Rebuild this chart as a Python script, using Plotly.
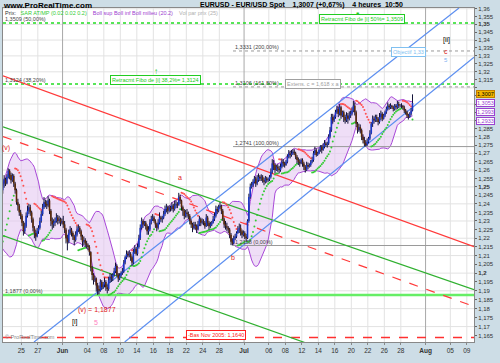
import numpy as np
import pandas as pd
import plotly.graph_objects as go

# ---------------- calendar (trading days, weekends removed) ----------------
trading_days = [d.strftime("%Y-%m-%d") for d in pd.bdate_range("2010-05-17", "2010-08-09")]
origin_day = "2010-05-25"          # x = 0 on the axis

# ---------------- EUR/USD 4-hour bars (6 per day, from 2010-05-17 00h) ----------------
first_open = 1.2350
close = [
 1.2330,1.2280,1.2250,1.2320,1.2370,1.2390,  # May 17
 1.2380,1.2400,1.2350,1.2300,1.2260,1.2230,  # May 18
 1.2200,1.2160,1.2200,1.2260,1.2300,1.2270,  # May 19
 1.2300,1.2380,1.2430,1.2480,1.2520,1.2545,  # May 20
 1.2520,1.2560,1.2595,1.2570,1.2540,1.2565,  # May 21
 1.2520,1.2480,1.2410,1.2390,1.2350,1.2330,  # May 24
 1.2290,1.2240,1.2270,1.2330,1.2360,1.2380,  # May 25
 1.2350,1.2310,1.2260,1.2230,1.2210,1.2240,  # May 26
 1.2260,1.2300,1.2340,1.2380,1.2410,1.2400,  # May 27
 1.2390,1.2420,1.2360,1.2300,1.2280,1.2290,  # May 28
 1.2300,1.2320,1.2300,1.2310,1.2290,1.2300,  # May 31
 1.2280,1.2250,1.2200,1.2180,1.2230,1.2250,  # Jun 1
 1.2230,1.2210,1.2190,1.2220,1.2250,1.2260,  # Jun 2
 1.2240,1.2210,1.2180,1.2190,1.2170,1.2160,  # Jun 3
 1.2150,1.2120,1.2030,1.1990,1.1960,1.1970,  # Jun 4
 1.1930,1.1910,1.1900,1.1950,1.1920,1.1935,  # Jun 7
 1.1950,1.1920,1.1910,1.1960,1.1980,1.1970,  # Jun 8
 1.1990,1.2010,1.2040,1.1990,1.1970,1.1985,  # Jun 9
 1.2000,1.2010,1.2060,1.2090,1.2110,1.2100,  # Jun 10
 1.2110,1.2090,1.2060,1.2120,1.2140,1.2110,  # Jun 11
 1.2150,1.2200,1.2260,1.2300,1.2280,1.2290,  # Jun 14
 1.2270,1.2240,1.2250,1.2290,1.2310,1.2320,  # Jun 15
 1.2300,1.2280,1.2260,1.2290,1.2320,1.2310,  # Jun 16
 1.2320,1.2340,1.2370,1.2380,1.2360,1.2380,  # Jun 17
 1.2370,1.2390,1.2370,1.2390,1.2400,1.2390,  # Jun 18
 1.2440,1.2420,1.2380,1.2360,1.2330,1.2350,  # Jun 21
 1.2340,1.2330,1.2300,1.2280,1.2260,1.2280,  # Jun 22
 1.2270,1.2250,1.2280,1.2310,1.2290,1.2300,  # Jun 23
 1.2290,1.2270,1.2320,1.2290,1.2270,1.2280,  # Jun 24
 1.2290,1.2310,1.2330,1.2370,1.2360,1.2380,  # Jun 25
 1.2390,1.2360,1.2310,1.2280,1.2270,1.2260,  # Jun 28
 1.2250,1.2220,1.2180,1.2170,1.2200,1.2210,  # Jun 29
 1.2230,1.2250,1.2260,1.2240,1.2220,1.2230,  # Jun 30
 1.2210,1.2200,1.2300,1.2440,1.2500,1.2510,  # Jul 1
 1.2530,1.2550,1.2520,1.2540,1.2560,1.2550,  # Jul 2
 1.2560,1.2540,1.2530,1.2550,1.2540,1.2545,  # Jul 5
 1.2560,1.2590,1.2640,1.2630,1.2600,1.2620,  # Jul 6
 1.2610,1.2600,1.2620,1.2650,1.2640,1.2630,  # Jul 7
 1.2650,1.2680,1.2700,1.2690,1.2700,1.2710,  # Jul 8
 1.2700,1.2680,1.2660,1.2650,1.2640,1.2660,  # Jul 9
 1.2640,1.2620,1.2600,1.2630,1.2620,1.2630,  # Jul 12
 1.2650,1.2660,1.2700,1.2720,1.2690,1.2700,  # Jul 13
 1.2720,1.2740,1.2720,1.2740,1.2760,1.2750,  # Jul 14
 1.2760,1.2800,1.2840,1.2920,1.2900,1.2920,  # Jul 15
 1.2950,1.2970,1.2940,1.2980,1.2930,1.2950,  # Jul 16
 1.2920,1.2900,1.2930,1.2910,1.2930,1.2940,  # Jul 19
 1.2960,1.2990,1.2950,1.2880,1.2840,1.2860,  # Jul 20
 1.2840,1.2800,1.2780,1.2760,1.2750,1.2770,  # Jul 21
 1.2790,1.2820,1.2880,1.2910,1.2900,1.2920,  # Jul 22
 1.2910,1.2890,1.2920,1.2940,1.2910,1.2930,  # Jul 23
 1.2950,1.2970,1.2990,1.2980,1.2990,1.2980,  # Jul 26
 1.2970,1.2990,1.2980,1.3000,1.2990,1.2990,  # Jul 27
 1.2990,1.2980,1.2960,1.2950,1.2930,1.2920,  # Jul 28
 1.2940,1.2960,1.3007,                       # Jul 29 (to 10:50)
]
high = [
 1.2370,1.2330,1.2300,1.2340,1.2390,1.2410,
 1.2410,1.2420,1.2410,1.2360,1.2310,1.2270,
 1.2240,1.2210,1.2230,1.2290,1.2330,1.2310,
 1.2320,1.2400,1.2460,1.2510,1.2550,1.2570,
 1.2555,1.2575,1.2610,1.2605,1.2585,1.2580,
 1.2575,1.2530,1.2490,1.2430,1.2400,1.2365,
 1.2340,1.2300,1.2290,1.2350,1.2390,1.2400,
 1.2395,1.2360,1.2320,1.2270,1.2250,1.2260,
 1.2275,1.2320,1.2360,1.2400,1.2440,1.2425,
 1.2420,1.2445,1.2430,1.2370,1.2320,1.2310,
 1.2320,1.2345,1.2335,1.2330,1.2320,1.2315,
 1.2330,1.2300,1.2260,1.2220,1.2250,1.2270,
 1.2260,1.2240,1.2220,1.2240,1.2270,1.2280,
 1.2270,1.2250,1.2220,1.2210,1.2200,1.2185,
 1.2170,1.2160,1.2125,1.2040,1.2000,1.1985,
 1.1975,1.1945,1.1930,1.1965,1.1960,1.1950,
 1.1975,1.1960,1.1935,1.1980,1.2000,1.1995,
 1.2000,1.2030,1.2060,1.2050,1.2000,1.2000,
 1.2010,1.2030,1.2075,1.2100,1.2130,1.2125,
 1.2130,1.2120,1.2100,1.2140,1.2160,1.2150,
 1.2170,1.2220,1.2280,1.2320,1.2310,1.2300,
 1.2300,1.2280,1.2270,1.2310,1.2330,1.2340,
 1.2330,1.2310,1.2290,1.2310,1.2350,1.2330,
 1.2330,1.2360,1.2390,1.2400,1.2390,1.2390,
 1.2390,1.2410,1.2400,1.2420,1.2420,1.2410,
 1.2465,1.2455,1.2425,1.2390,1.2370,1.2365,
 1.2370,1.2355,1.2340,1.2310,1.2290,1.2295,
 1.2295,1.2280,1.2300,1.2330,1.2320,1.2315,
 1.2310,1.2300,1.2340,1.2330,1.2300,1.2295,
 1.2300,1.2330,1.2350,1.2390,1.2385,1.2395,
 1.2410,1.2395,1.2370,1.2320,1.2300,1.2290,
 1.2270,1.2260,1.2230,1.2200,1.2215,1.2225,
 1.2240,1.2270,1.2285,1.2280,1.2250,1.2245,
 1.2240,1.2225,1.2310,1.2460,1.2520,1.2530,
 1.2545,1.2565,1.2560,1.2570,1.2580,1.2570,
 1.2575,1.2570,1.2555,1.2565,1.2560,1.2555,
 1.2570,1.2610,1.2665,1.2660,1.2640,1.2630,
 1.2635,1.2625,1.2640,1.2670,1.2665,1.2650,
 1.2660,1.2695,1.2720,1.2715,1.2720,1.2725,
 1.2725,1.2710,1.2690,1.2675,1.2665,1.2670,
 1.2670,1.2650,1.2630,1.2650,1.2645,1.2640,
 1.2660,1.2680,1.2715,1.2740,1.2730,1.2710,
 1.2730,1.2750,1.2750,1.2760,1.2780,1.2770,
 1.2770,1.2815,1.2860,1.2940,1.2940,1.2930,
 1.2965,1.2990,1.2985,1.3000,1.2990,1.2960,
 1.2960,1.2935,1.2950,1.2945,1.2955,1.2960,
 1.2980,1.3020,1.3010,1.2960,1.2890,1.2880,
 1.2875,1.2850,1.2815,1.2800,1.2780,1.2790,
 1.2800,1.2840,1.2890,1.2930,1.2925,1.2935,
 1.2935,1.2920,1.2945,1.2960,1.2950,1.2940,
 1.2960,1.2985,1.3010,1.3000,1.3005,1.2995,
 1.2990,1.3000,1.3000,1.3020,1.3015,1.3000,
 1.3005,1.2995,1.2990,1.2970,1.2960,1.2940,
 1.2950,1.2975,1.3060,
]
low = [
 1.2300,1.2240,1.2235,1.2250,1.2310,1.2350,
 1.2360,1.2370,1.2330,1.2280,1.2240,1.2200,
 1.2170,1.2143,1.2150,1.2190,1.2240,1.2250,
 1.2260,1.2290,1.2370,1.2420,1.2460,1.2495,
 1.2505,1.2515,1.2550,1.2545,1.2520,1.2530,
 1.2500,1.2460,1.2395,1.2360,1.2330,1.2310,
 1.2270,1.2215,1.2225,1.2260,1.2320,1.2340,
 1.2330,1.2290,1.2240,1.2200,1.2185,1.2205,
 1.2225,1.2250,1.2290,1.2330,1.2370,1.2380,
 1.2370,1.2380,1.2340,1.2270,1.2250,1.2260,
 1.2270,1.2290,1.2280,1.2285,1.2270,1.2280,
 1.2260,1.2230,1.2170,1.2130,1.2170,1.2220,
 1.2210,1.2190,1.2160,1.2180,1.2210,1.2235,
 1.2225,1.2190,1.2150,1.2160,1.2150,1.2140,
 1.2130,1.2100,1.2010,1.1960,1.1935,1.1950,
 1.1895,1.1877,1.1880,1.1895,1.1905,1.1910,
 1.1920,1.1900,1.1885,1.1900,1.1945,1.1950,
 1.1955,1.1980,1.2000,1.1980,1.1950,1.1960,
 1.1975,1.1990,1.2000,1.2050,1.2080,1.2090,
 1.2090,1.2070,1.2040,1.2050,1.2110,1.2100,
 1.2100,1.2140,1.2190,1.2250,1.2260,1.2270,
 1.2250,1.2220,1.2220,1.2240,1.2280,1.2300,
 1.2290,1.2260,1.2240,1.2250,1.2280,1.2295,
 1.2290,1.2310,1.2330,1.2350,1.2340,1.2350,
 1.2355,1.2360,1.2350,1.2360,1.2375,1.2375,
 1.2400,1.2400,1.2360,1.2330,1.2310,1.2320,
 1.2320,1.2310,1.2280,1.2260,1.2235,1.2250,
 1.2250,1.2230,1.2245,1.2270,1.2270,1.2280,
 1.2275,1.2255,1.2265,1.2270,1.2250,1.2260,
 1.2270,1.2285,1.2300,1.2320,1.2340,1.2350,
 1.2370,1.2340,1.2300,1.2260,1.2250,1.2240,
 1.2230,1.2200,1.2160,1.2158,1.2165,1.2190,
 1.2200,1.2225,1.2230,1.2215,1.2200,1.2210,
 1.2195,1.2180,1.2195,1.2290,1.2430,1.2490,
 1.2500,1.2520,1.2500,1.2510,1.2530,1.2535,
 1.2535,1.2525,1.2510,1.2520,1.2525,1.2530,
 1.2535,1.2550,1.2580,1.2600,1.2580,1.2595,
 1.2590,1.2580,1.2590,1.2610,1.2620,1.2615,
 1.2625,1.2640,1.2670,1.2670,1.2680,1.2690,
 1.2690,1.2665,1.2640,1.2630,1.2620,1.2635,
 1.2620,1.2600,1.2585,1.2595,1.2605,1.2615,
 1.2620,1.2640,1.2650,1.2690,1.2680,1.2685,
 1.2695,1.2710,1.2700,1.2715,1.2730,1.2740,
 1.2735,1.2750,1.2790,1.2830,1.2880,1.2890,
 1.2910,1.2940,1.2920,1.2930,1.2910,1.2920,
 1.2890,1.2880,1.2890,1.2880,1.2900,1.2915,
 1.2930,1.2950,1.2930,1.2860,1.2820,1.2830,
 1.2820,1.2780,1.2760,1.2741,1.2741,1.2745,
 1.2760,1.2780,1.2815,1.2860,1.2880,1.2890,
 1.2890,1.2870,1.2880,1.2900,1.2895,1.2905,
 1.2920,1.2940,1.2960,1.2965,1.2970,1.2970,
 1.2955,1.2960,1.2965,1.2970,1.2975,1.2980,
 1.2975,1.2965,1.2945,1.2935,1.2915,1.2905,
 1.2915,1.2930,1.2955,
]

# Fibonacci retracement of [i] (full width) and extension levels (from b onwards)
retr_levels = [1.3509, 1.3124, 1.1877]
retr_labels = ["1,3509 (50,00%)", "1,3124 (38,20%)", "1,1877 (0,00%)"]
ext_levels = [1.3331, 1.3106, 1.2741, 1.2158]
ext_labels = ["1,3331 (200,00%)", "1,3106 (161,80%)", "1,2741 (100,00%)", "1,2158 (0,00%)"]
ext_start_day = 25.66
nov2005_low = 1.1640

# trend lines: (trading-day index, price) endpoints
red_channel = [(-2.22, 1.3175), (54.87, 1.2151)]
red_channel_dash = [(-2.22, 1.2802), (54.87, 1.1812)]
green_channel_top = [(-2.22, 1.2861), (54.87, 1.1907)]
green_channel_bot = [(-2.22, 1.2215), (54.87, 1.1287)]
blue_channel_top = [(1.54, 1.1615), (53.05, 1.3605)]
blue_channel_bot = [(12.53, 1.1615), (54.87, 1.3292)]

# right-axis value tags (text, background, text colour)
value_tags = [("1,3007", "#f5b800", "#000000"), ("1,3053", "#ffffff", "#9b40d0"),
              ("1,2993", "#ffffff", "#9b40d0"), ("1,2933", "#ffffff", "#9b40d0")]

# x-axis tick labels
tick_dates = ["2010-05-25","2010-05-27","2010-06-01","2010-06-04","2010-06-08","2010-06-10",
              "2010-06-14","2010-06-16","2010-06-18","2010-06-22","2010-06-24","2010-06-28",
              "2010-07-01","2010-07-06","2010-07-08","2010-07-12","2010-07-14","2010-07-16",
              "2010-07-20","2010-07-22","2010-07-26","2010-07-28","2010-08-02","2010-08-05","2010-08-09"]
tick_labels = ["25","27","<b>Jun</b>","04","08","10","14","16","18","22","24","28",
               "<b>Jul</b>","06","08","12","14","16","20","22","26","28","<b>Aug</b>","05","09"]

# ---------------- derived positions ----------------
day_index = {d: i - trading_days.index(origin_day) for i, d in enumerate(trading_days)}
first_day = day_index["2010-05-17"]
n = len(close)
bar_x = np.array([first_day + (k // 6) + ((k % 6) + 0.5) / 6 for k in range(n)])
c = np.array(close); h = np.array(high); l = np.array(low)
o = np.concatenate([[first_open], c[:-1]])

# Bollinger (20, 2)
s = pd.Series(c)
mid = s.rolling(20).mean()
sd = s.rolling(20).std(ddof=0)
bb_up = (mid + 2 * sd).values
bb_lo = (mid - 2 * sd).values

# Parabolic SAR (0.02, 0.02, 0.2)
sar = np.zeros(n); bull = np.zeros(n, dtype=bool)
up = False; af = 0.02; ep = l[0]; sar[0] = h[0]
for i in range(1, n):
    p = sar[i-1] + af * (ep - sar[i-1])
    if up:
        p = min(p, l[i-1], l[i-2] if i > 1 else l[i-1])
        if l[i] < p:
            up = False; p = ep; ep = l[i]; af = 0.02
        elif h[i] > ep:
            ep = h[i]; af = min(af + 0.02, 0.2)
    else:
        p = max(p, h[i-1], h[i-2] if i > 1 else h[i-1])
        if h[i] > p:
            up = True; p = ep; ep = h[i]; af = 0.02
        elif l[i] < ep:
            ep = l[i]; af = min(af + 0.02, 0.2)
    sar[i] = p; bull[i] = up

XR = [-2.22, 54.87]
YR = [1.1615, 1.3605]

fig = go.Figure()

def segs(xs, y0s, y1s):
    X, Y = [], []
    for x, a, b in zip(xs, y0s, y1s):
        X += [x, x, None]; Y += [a, b, None]
    return X, Y

# horizontal grid every 0.01 and vertical grid on tick dates
gx, gy = [], []
for v in np.arange(1.17, 1.361, 0.01):
    gx += [XR[0], XR[1], None]; gy += [v, v, None]
fig.add_trace(go.Scatter(x=gx, y=gy, mode="lines", line=dict(color="#e2e2e2", width=1), hoverinfo="skip"))
minor_d = [day_index[d] for d, t in zip(tick_dates, tick_labels) if not t.startswith("<b>")]
month_d = [day_index[d] for d, t in zip(tick_dates, tick_labels) if t.startswith("<b>")]
vx, vy = segs(minor_d, [YR[0]] * len(minor_d), [YR[1]] * len(minor_d))
fig.add_trace(go.Scatter(x=vx, y=vy, mode="lines", line=dict(color="#e2e2e2", width=1), hoverinfo="skip"))
mx, my = segs(month_d, [YR[0]] * len(month_d), [YR[1]] * len(month_d))
fig.add_trace(go.Scatter(x=mx, y=my, mode="lines", line=dict(color="#a8a8a8", width=1), hoverinfo="skip"))

# Bollinger band fill
fig.add_trace(go.Scatter(x=bar_x, y=bb_lo, mode="lines", line=dict(color="#a848d8", width=1), hoverinfo="skip"))
fig.add_trace(go.Scatter(x=bar_x, y=bb_up, mode="lines", line=dict(color="#a848d8", width=1),
                         fill="tonexty", fillcolor="rgba(228,200,242,0.6)", hoverinfo="skip"))

# retracement / extension levels
for lv in retr_levels[:2]:
    fig.add_trace(go.Scatter(x=XR, y=[lv, lv], mode="lines", line=dict(color="#22dd22", width=1.5, dash="dot")))
fig.add_trace(go.Scatter(x=XR, y=[retr_levels[2]] * 2, mode="lines", line=dict(color="#66ee66", width=2.5)))
for lv, dash in zip(ext_levels, ["dot", "dot", "solid", "solid"]):
    fig.add_trace(go.Scatter(x=[ext_start_day, XR[1]], y=[lv, lv], mode="lines",
                             line=dict(color="#9a9a9a", width=1, dash=dash)))
fig.add_trace(go.Scatter(x=XR, y=[nov2005_low] * 2, mode="lines", line=dict(color="#ff3030", width=1.5, dash="dash")))

# trend lines
for seg, col, dash in [(red_channel, "#ff3a3a", "solid"), (red_channel_dash, "#ff3a3a", "dash"),
                       (green_channel_top, "#30b030", "solid"), (green_channel_bot, "#30b030", "solid"),
                       (blue_channel_top, "#5b8ef0", "solid"), (blue_channel_bot, "#5b8ef0", "solid")]:
    fig.add_trace(go.Scatter(x=[seg[0][0], seg[1][0]], y=[seg[0][1], seg[1][1]], mode="lines",
                             line=dict(color=col, width=1.2, dash=dash)))

# SAR dots
fig.add_trace(go.Scatter(x=bar_x[~bull], y=sar[~bull], mode="markers",
                         marker=dict(color="#ff5050", size=2)))
fig.add_trace(go.Scatter(x=bar_x[bull], y=sar[bull], mode="markers",
                         marker=dict(color="#33cc33", size=2)))

# candles drawn as wick + body segments
wx, wy = segs(bar_x, l, h)
fig.add_trace(go.Scatter(x=wx, y=wy, mode="lines", line=dict(color="#14143a", width=1), hoverinfo="skip"))
upm = c >= o
ux, uy = segs(bar_x[upm], o[upm], c[upm])
fig.add_trace(go.Scatter(x=ux, y=uy, mode="lines", line=dict(color="#1a36c8", width=1.6), hoverinfo="skip"))
dx, dy = segs(bar_x[~upm], o[~upm], c[~upm])
fig.add_trace(go.Scatter(x=dx, y=dy, mode="lines", line=dict(color="#5a2a08", width=1.6), hoverinfo="skip"))

F = "Liberation Sans, Arial, sans-serif"
ann = []
def lg(p):
    return float(np.log10(p))

# header
ann.append(dict(xref="paper", yref="paper", x=-0.004, y=1.026, xanchor="left", yanchor="top",
                text="<b>www.ProRealTime.com</b>", font=dict(size=8, color="#000", family=F), showarrow=False))
ann.append(dict(xref="paper", yref="paper", x=0.414, y=1.026, xanchor="left", yanchor="top",
                text="<b>EURUSD - EUR/USD Spot    1,3007 (+0,67%)    4 heures  10:50</b>",
                font=dict(size=7, color="#000", family=F), showarrow=False))
# indicator legend row
ann.append(dict(xref="paper", yref="paper", x=0.0, y=1.0, xanchor="left", yanchor="top",
                text="Prix:   <span style='color:#33cc33'>SAR AT/MP (0.02 0.02 0.2)</span>    "
                     "<span style='color:#9b40d0'>Boll sup Boll inf Boll milieu (20.2)</span>    "
                     "<span style='color:#b0b0b0'>Vol par prix (25)</span>",
                font=dict(size=5.5, color="#333", family=F), showarrow=False))
# level labels
for lv, t in zip(retr_levels, retr_labels):
    ann.append(dict(xref="paper", yref="y", x=0.0, y=lg(lv), xanchor="left", yanchor="bottom",
                    text=t, font=dict(size=5.5, color="#444", family=F), showarrow=False, yshift=-1))
for lv, t in zip(ext_levels, ext_labels):
    ann.append(dict(xref="x", yref="y", x=ext_start_day, y=lg(lv), xanchor="left", yanchor="bottom",
                    text=t, font=dict(size=5.5, color="#444", family=F), showarrow=False, yshift=-1))
# boxes
def box(x, y, t, col, bg="white", size=5.5):
    ann.append(dict(xref="x", yref="y", x=x, y=lg(y), text=t, showarrow=False,
                    font=dict(size=size, color=col, family=F), bgcolor=bg, bordercolor=col,
                    borderwidth=1, borderpad=1))
box(41.3, 1.3535, "Retracmt Fibo de [i] 50%= 1,3509", "#22cc22")
box(16.3, 1.3150, "Retracmt Fibo de [i] 38,2%= 1,3124", "#22cc22")
box(46.9, 1.3325, "Objectif 1,33", "#80c0f0")
box(35.3, 1.3125, "Extens. c = 1,618 x a", "#a0a0a0")
box(23.6, 1.1652, "-Bas Nov 2005: 1,1640", "#ff2020")
ann.append(dict(xref="x", yref="y", x=16.3, y=lg(1.3205), text="<b>\u2191</b>", showarrow=False,
                font=dict(size=8, color="#22cc22", family=F)))
ann.append(dict(xref="x", yref="y", x=40.8, y=lg(1.3573), text="\u25a0", showarrow=False,
                font=dict(size=5, color="#22cc22", family=F)))
# wave labels
def wl(x, p, t, col, size=7):
    ann.append(dict(xref="x", yref="y", x=x, y=lg(p), text=t, showarrow=False,
                    font=dict(size=size, color=col, family=F)))
wl(-1.86, 1.2734, "(v)", "#e02020")
wl(19.26, 1.2554, "a", "#e02020")
wl(25.66, 1.2088, "b", "#e02020")
wl(9.19, 1.1795, "(v) = 1,1877", "#e02020")
wl(6.5, 1.1723, "[i]", "#000000")
wl(9.05, 1.1723, "5", "#ff80c0")
wl(51.5, 1.3401, "[ii]", "#000000")
wl(51.5, 1.3325, "c", "#e02020")
wl(51.5, 1.3275, "5", "#80b0f0", 6)
ann.append(dict(xref="paper", yref="paper", x=0.0, y=0.0, xanchor="left", yanchor="bottom",
                text="\u00a9 ProRealTime.com", font=dict(size=5.5, color="#888", family=F), showarrow=False))
# right axis value tags, stacked under the last price
tag_y = [0.753, 0.727, 0.700, 0.673]
for (t, bg, fc), ty in zip(value_tags, tag_y):
    ann.append(dict(xref="paper", yref="paper", x=1.0, y=ty, xanchor="left", text=t, showarrow=False,
                    font=dict(size=5.5, color=fc, family=F), bgcolor=bg,
                    bordercolor=fc if bg == "#ffffff" else "#c08000",
                    borderwidth=1, borderpad=0, xshift=2))

# y ticks (labels hidden under the value tags are left blank)
yt = np.round(np.arange(1.165, 1.3601, 0.005), 3)
ytxt = []
for v in yt:
    t = ("%.3f" % v).rstrip("0").rstrip(".").replace(".", ",")
    if 1.2899 < v < 1.3101:
        t = ""
    elif abs(v * 20 - round(v * 20)) < 1e-6:
        t = "<b>%s</b>" % t
    ytxt.append(t)

fig.update_layout(
    width=500, height=363, margin=dict(l=3, r=26, t=8, b=21),
    paper_bgcolor="#cddde6", plot_bgcolor="white", showlegend=False,
    annotations=ann,
    xaxis=dict(range=XR, tickvals=[day_index[d] for d in tick_dates], ticktext=tick_labels,
               showgrid=False, zeroline=False,
               tickfont=dict(size=6.5, color="#333", family=F), ticks="outside", ticklen=2,
               tickcolor="#888", showline=True, linecolor="#888", mirror=True),
    yaxis=dict(type="log", range=[np.log10(YR[0]), np.log10(YR[1])], side="right",
               tickvals=yt, ticktext=ytxt, showgrid=False, zeroline=False,
               tickfont=dict(size=6, color="#333", family=F), ticks="outside", ticklen=2,
               tickcolor="#666", showline=True, linecolor="#888", mirror=True),
)
fig.write_html("out.html", config={"displayModeBar": False},
               post_script="document.body.style.margin='0';document.body.style.overflow='hidden';")
